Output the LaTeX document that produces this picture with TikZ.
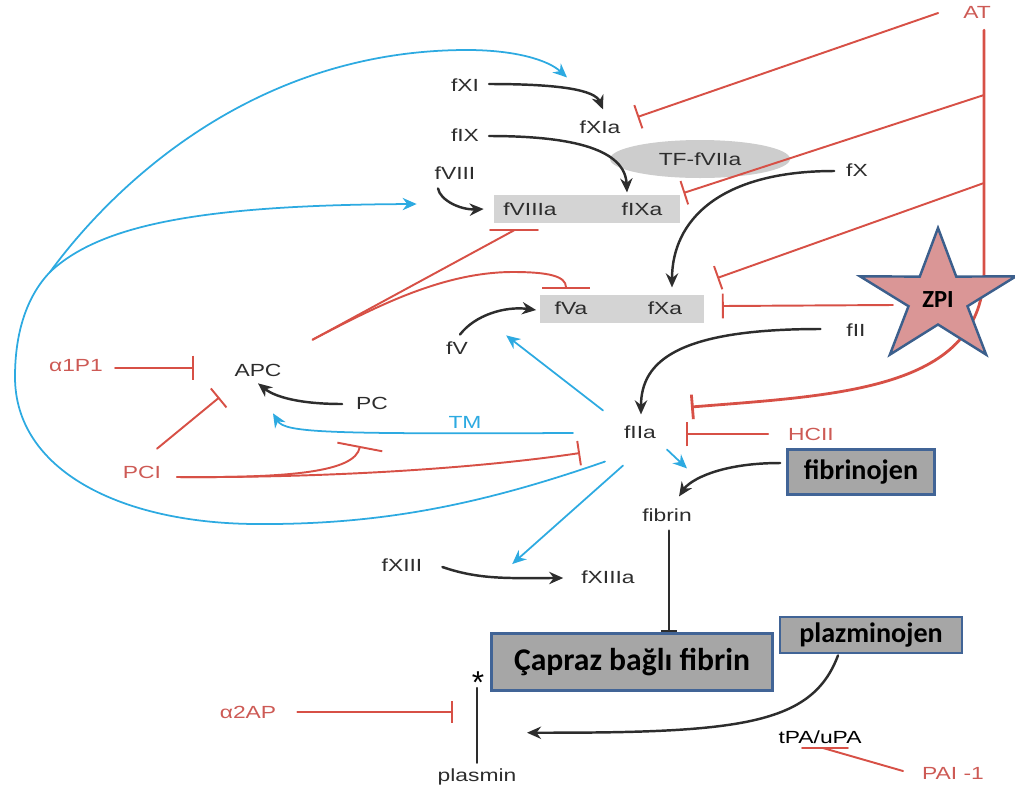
\documentclass[tikz,border=0pt]{standalone}
\usepackage{fontspec}
\setmainfont{Liberation Sans}
\newfontfamily\labfont[FakeStretch=1.3]{Liberation Sans}
\newfontfamily\boxfont{Carlito}
\usetikzlibrary{arrows.meta,calc,shapes.geometric}

\begin{document}
\begin{tikzpicture}[x=0.02cm,y=-0.02cm,line cap=round,>=Stealth,
  lab/.style={font=\labfont\fontsize{10}{12}\selectfont,text=labgray,inner sep=1pt},
  rlab/.style={lab,text=labred},
  act/.style={draw=actgray,line width=1.4pt,-{Stealth[length=8pt,width=7pt]}},
  fbkl/.style={draw=fbblue,line width=1pt},
  fbk/.style={fbkl,-{Stealth[length=8pt,width=7pt]}},
  inhl/.style={draw=inhred,line width=1.1pt},
  inh/.style={inhl,-{Bar[width=14pt]}},
  cplx/.style={fill=cplxgray,minimum height=0.56cm,inner sep=0pt},
  tbox/.style={draw=tboxblue,line width=1.6pt,fill=tboxgray,inner sep=0pt,
    font=\boxfont\bfseries,text=black}]
  \definecolor{labgray}{RGB}{45,45,45}
  \definecolor{labred}{RGB}{205,90,85}
  \definecolor{inhred}{RGB}{215,80,70}
  \definecolor{fbblue}{RGB}{45,170,225}
  \definecolor{actgray}{RGB}{45,45,45}
  \definecolor{cplxgray}{RGB}{212,212,212}
  \definecolor{tfgray}{RGB}{205,205,205}
  \definecolor{tboxgray}{RGB}{166,166,166}
  \definecolor{tboxblue}{RGB}{65,100,150}
  \definecolor{starpink}{RGB}{218,150,150}
  \definecolor{starblue}{RGB}{60,95,140}

  \useasboundingbox (0,0) rectangle (1015,789);

  % ---- complexes ----
  \node[cplx,minimum width=3.72cm] (vbox) at (587,209) {};
  \node[cplx,minimum width=3.3cm] (vbox2) at (622,309) {};
  \node[lab,ellipse,fill=tfgray,minimum width=3.6cm,minimum height=0.76cm] (tf) at (700,159) {TF-fVIIa};

  % ---- factors ----
  \node[rlab] (AT) at (977,12) {AT};
  \node[lab] (fXI) at (465,85) {fXI};
  \node[lab] (fXIa) at (600,127) {fXIa};
  \node[lab] (fIX) at (465,135) {fIX};
  \node[lab] (fVIII) at (455,173) {fVIII};
  \node[lab] (fVIIIa) at (530,209) {fVIIIa};
  \node[lab] (fIXa) at (642,209) {fIXa};
  \node[lab] (fX) at (857,170) {fX};
  \node[lab] (fVa) at (571,308) {fVa};
  \node[lab] (fXa) at (665,308) {fXa};
  \node[lab] (fV) at (457,348) {fV};
  \node[lab] (fII) at (856,330) {fII};
  \node[lab] (fIIa) at (640,432) {fIIa};
  \node[rlab] (HCII) at (811,434) {HCII};
  \node[rlab] (a1p1) at (76,366) {α1P1};
  \node[lab] (APC) at (258,370) {APC};
  \node[lab] (PC) at (372,403) {PC};
  \node[lab,text=fbblue] (TM) at (465,422) {TM};
  \node[rlab] (PCI) at (142,472) {PCI};
  \node[lab] (fibrin) at (667,515) {fibrin};
  \node[lab] (fXIII) at (402,565) {fXIII};
  \node[lab] (fXIIIa) at (608,577) {fXIIIa};
  \node[rlab] (a2ap) at (248,712) {α2AP};
  \node[lab,text=black] (tpa) at (820,737) {tPA/uPA};
  \node[rlab] (pai) at (953,773) {PAI -1};
  \node[lab] (plasmin) at (477,777) {plasmin};
  \node[inner sep=0pt,font=\fontsize{18}{18}\selectfont] (ast) at (478,683) {*};

  % ---- boxed texts ----
  \node[tbox,minimum width=2.94cm,minimum height=0.9cm,font=\boxfont\bfseries\fontsize{16}{18}\selectfont]
    (fibrinojen) at (861,472) {fibrinojen};
  \node[tbox,minimum width=3.64cm,minimum height=0.72cm,font=\boxfont\bfseries\fontsize{16}{18}\selectfont]
    (plazminojen) at (871,635) {plazminojen};
  \node[tbox,minimum width=5.62cm,minimum height=1.14cm,font=\boxfont\bfseries\fontsize{18}{20}\selectfont]
    (capraz) at (632,662) {Çapraz bağlı fibrin};

  % ---- activation (black) ----
  \draw[act] ($(fXI.east)+(8,-1)$) .. controls (560,84) and (595,90) .. ($(fXIa.north)+(3,-9)$);
  \draw[act] ($(fIX.east)+(8,1)$) .. controls (575,136) and (625,150) .. ($(fIXa.north)+(-15,-8)$);
  \draw[act] ($(fVIII.south)+(-17,7)$) .. controls (440,200) and (460,210) .. ($(vbox.west)+(-10,0)$);
  \draw[act] ($(fX.west)+(-10,1)$) .. controls (720,171) and (672,220) .. ($(fXa.north)+(7,-12)$);
  \draw[act] ($(fII.west)+(-24,-1)$) .. controls (680,329) and (641,360) .. ($(fIIa.north)+(1,-9)$);
  \draw[act] ($(fibrinojen.west)+(-6,-9)$) .. controls (720,463) and (690,480) .. ($(fibrin.north)+(12,-10)$);
  \draw[act] ($(fV.north)+(3,-5)$) .. controls (475,315) and (505,306) .. ($(vbox2.west)+(-3,1)$);
  \draw[act] ($(PC.west)+(-12,1)$) .. controls (300,404) and (275,397) .. ($(APC.south)+(0,5)$);
  \draw[act] ($(fXIII.east)+(18,2)$) .. controls (480,580) and (510,578) .. ($(fXIIIa.west)+(-16,1)$);
  \draw[act] ($(plazminojen.south)+(-33,1)$) .. controls (812,725) and (740,733) .. ($(plasmin.north)+(50,-34)$);
  \draw[draw=actgray,line width=1.4pt,-{Bar[width=9pt]}] ($(fibrin.south)+(2,7)$) -- ($(capraz.north)+(37,0)$);
  \draw[draw=actgray,line width=1.4pt] ($(plasmin.north)+(0,-4)$) -- ($(ast)+(-1,5)$);

  % ---- thrombin feedback (blue) ----
  \coordinate (split) at (50,272);
  \draw[fbk] ($(fIIa.north west)+(-19,-13)$) -- ($(vbox2.south west)+(-33,12)$);
  \draw[fbk] ($(fIIa.west)+(-49,1)$) .. controls (330,434) and (285,433) .. ($(APC.south)+(15,35)$);
  \draw[fbk] ($(fIIa.south east)+(9,9)$) -- ($(fibrin.north)+(20,-38)$);
  \draw[fbk] ($(fIIa.south)+(-17,25)$) -- ($(fXIIIa.west)+(-67,-13)$);
  \draw[fbkl] ($(fIIa.south)+(-35,21)$) .. controls (480,505) and (380,525) .. (255,524)
    .. controls (120,523) and (15,470) .. (15,377) .. controls (15,330) and (28,295) .. (split);
  \draw[fbk] (split) .. controls (110,190) and (250,50) .. (467,50)
    .. controls (515,50) and (548,60) .. ($(fXIa.north)+(-33,-41)$);
  \draw[fbk] (split) .. controls (100,225) and (200,205) .. ($(vbox.west)+(-77,-5)$);

  % ---- inhibitors (red) ----
  \coordinate (at1) at (984,95);
  \coordinate (at2) at (984,183);
  \coordinate (atk) at (984,270);
  \draw[inh] ($(AT.west)+(-23,1)$) -- ($(fXIa.east)+(15,-10)$);
  \draw[inh,line width=1.6pt] ($(AT.south)+(7,10)$) -- (atk) .. controls (984,390) and (840,395) .. ($(fIIa.east)+(33,-25)$);
  \draw[inh] (at1) -- ($(fIXa.east)+(19,-16)$);
  \draw[inh] (at2) -- ($(fXa.east)+(33,-30)$);
  \draw[inh] ($(HCII.west)+(-18,0)$) -- ($(fIIa.east)+(28,2)$);
  \draw[inh] ($(PCI.east)+(14,5)$) .. controls (330,478) and (480,468) .. ($(fIIa.west)+(-42,21)$);
  \draw[inh,-{Bar[width=26pt]}] ($(PCI.east)+(14,5)$) .. controls (290,478) and (355,472) .. ($(TM)+(-105,24)$);
  \draw[inh] ($(PCI.north)+(15,-15)$) -- ($(APC.south west)+(-13,19)$);
  \draw[inh] ($(a1p1.east)+(10,2)$) -- ($(APC.west)+(-38,-2)$);
  \draw[inhl] ($(APC.north east)+(29,-22)$) -- ($(vbox.south)+(-73,7)$);
  \draw[inhl] ($(vbox.south)+(-97,7)$) -- ($(vbox.south)+(-49,7)$);
  \draw[inh,-{Bar[width=27pt]}] ($(APC.north east)+(29,-22)$) .. controls (370,310) and (440,272) .. (513,272)
    .. controls (548,272) and (566,276) .. ($(vbox2.north)+(-56,-6)$);
  \draw[inh,-{Bar[width=12pt]}] ($(a2ap.east)+(19,0)$) -- ($(ast)+(-25,29)$);
  \draw[inhl] ($(pai.west)+(-17,-2)$) -- ($(tpa)+(3,11)$);
  \draw[inhl] ($(tpa)+(-18,11)$) -- ($(tpa)+(28,11)$);

  % ---- ZPI star ----
  \filldraw[fill=starpink,draw=starblue,line width=1.4pt,line join=miter]
    (938,228) \foreach \k/\rad in {1/26.5,2/70,3/26.5,4/70,5/26.5,6/70,7/26.5,8/70,9/26.5}
      { -- ({938+1.17*\rad*cos(90+36*\k)},{298-\rad*sin(90+36*\k)}) } -- cycle;
  \node[font=\boxfont\bfseries\fontsize{14}{16}\selectfont] (zpi) at (938,300) {ZPI};
  \draw[inh] ($(zpi)+(-45,5)$) -- ($(vbox2.east)+(17,-3)$);
\end{tikzpicture}
\end{document}
